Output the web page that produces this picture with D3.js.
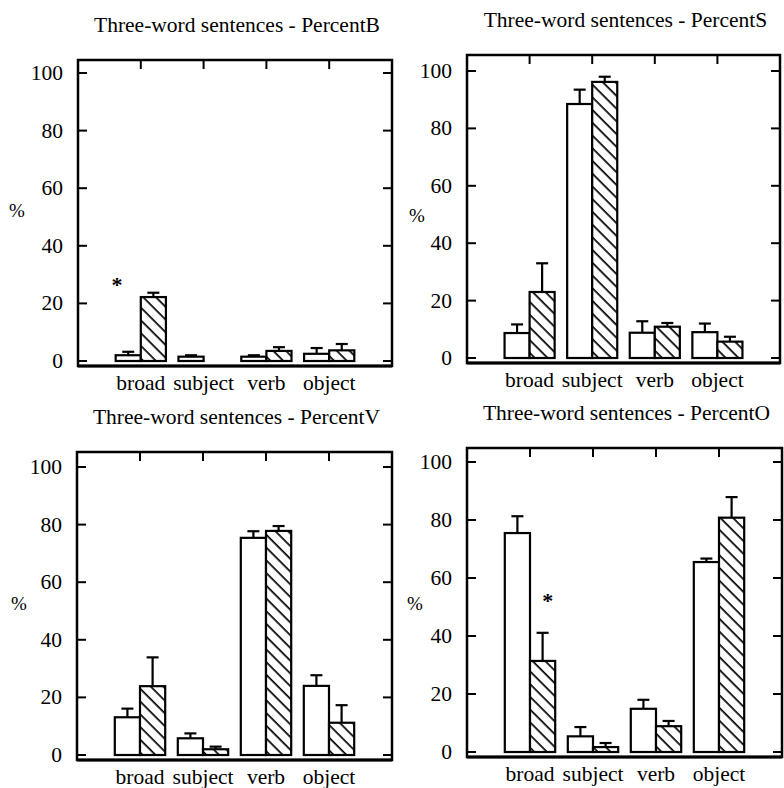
<!DOCTYPE html>
<html>
<head>
<meta charset="utf-8">
<script src="https://cdn.jsdelivr.net/npm/d3@7"></script>
<style>html,body{margin:0;background:#fff}</style>
</head>
<body>
<svg id="chart" width="784" height="788" font-family="Liberation Serif"></svg>
<script>
// ---------------- data ----------------
const categories = ["broad", "subject", "verb", "object"];
const yTicks = [0, 20, 40, 60, 80, 100];
const panelTitles = [
  "Three-word sentences - PercentB",
  "Three-word sentences - PercentS",
  "Three-word sentences - PercentV",
  "Three-word sentences - PercentO"
];
// open (white) bars
const openB = [2.0, 1.5, 1.5, 2.5];
const openS = [8.7, 88.5, 8.8, 9.0];
const openV = [13.1, 5.8, 75.4, 24.0];
const openO = [75.5, 5.4, 14.9, 65.5];
// hatched bars
const hatchB = [22.2, 0, 3.5, 3.7];
const hatchS = [23.0, 96.2, 10.9, 5.7];
const hatchV = [23.9, 2.0, 77.8, 11.2];
const hatchO = [31.4, 1.7, 8.9, 80.8];
// upward error bars
const openErrB = [1.2, 0.5, 0.5, 2.0];
const openErrS = [3.0, 5.0, 4.0, 3.0];
const openErrV = [3.0, 1.7, 2.3, 3.7];
const openErrO = [5.8, 3.2, 3.1, 1.2];
const hatchErrB = [1.5, 0, 1.3, 2.2];
const hatchErrS = [10.0, 1.8, 1.3, 1.7];
const hatchErrV = [10.0, 0.9, 1.7, 6.1];
const hatchErrO = [9.7, 1.4, 1.8, 7.1];
// significance asterisks: [panel index, category, value, side]
const sigMarks = [
  [0, "broad", 28.5, "left"],
  [3, "broad", 54, "right"]
];

// ---------------- layout ----------------
const panels = [
  { L: 78,  R: 392, T: 60,  y0: 361, y100: 73,  pct: [17, 211] },
  { L: 467, R: 780, T: 55,  y0: 358, y100: 71,  pct: [417, 216] },
  { L: 77,  R: 392, T: 452, y0: 755, y100: 467, pct: [19, 604] },
  { L: 467, R: 782, T: 448, y0: 752, y100: 462, pct: [415, 604] }
];
const openData = [openB, openS, openV, openO];
const hatchData = [hatchB, hatchS, hatchV, hatchO];
const openErr = [openErrB, openErrS, openErrV, openErrO];
const hatchErr = [hatchErrB, hatchErrS, hatchErrV, hatchErrO];

const svg = d3.select("#chart");
const defs = svg.append("defs");
const pat = defs.append("pattern")
  .attr("id", "hatch")
  .attr("patternUnits", "userSpaceOnUse")
  .attr("width", 9).attr("height", 9)
  .attr("patternTransform", "rotate(45)");
pat.append("rect").attr("width", 9).attr("height", 9).attr("fill", "#fff");
pat.append("line").attr("x1", 0).attr("y1", 0).attr("x2", 9).attr("y2", 0)
  .attr("stroke", "#000").attr("stroke-width", 3.4);

function addText(x, y, str, size, anchor) {
  return svg.append("text")
    .attr("x", x).attr("y", y)
    .attr("font-family", "Liberation Serif")
    .style("font-family", "'Liberation Serif', serif")
    .attr("font-size", size)
    .attr("text-anchor", anchor)
    .text(String(str));
}

panels.forEach((p, i) => {
  const g = svg.append("g");
  const x = d3.scalePoint().domain(categories).range([p.L, p.R]).padding(1);
  const y = d3.scaleLinear().domain([0, 100]).range([p.y0, p.y100]);
  const B = p.y0 + 5;
  const bw = x.step() * 0.4;
  const tickLen = 9;

  // title
  addText((p.L + p.R) / 2 + 2, p.T - 28, panelTitles[i], 21.5, "middle");

  // frame
  g.append("rect")
    .attr("x", p.L).attr("y", p.T)
    .attr("width", p.R - p.L).attr("height", B - p.T)
    .attr("fill", "none").attr("stroke", "#000").attr("stroke-width", 2.5);
  g.append("line")
    .attr("x1", p.L).attr("x2", p.R).attr("y1", B).attr("y2", B)
    .attr("stroke", "#000").attr("stroke-width", 3);

  // y ticks (inward, both sides) and labels
  yTicks.forEach(t => {
    g.append("line").attr("x1", p.L).attr("x2", p.L + tickLen)
      .attr("y1", y(t)).attr("y2", y(t)).attr("stroke", "#000").attr("stroke-width", 2);
    g.append("line").attr("x1", p.R).attr("x2", p.R - tickLen)
      .attr("y1", y(t)).attr("y2", y(t)).attr("stroke", "#000").attr("stroke-width", 2);
    addText(p.L - 15, y(t) + 7, t, 21.5, "end");
  });

  // top ticks at category centres
  categories.forEach(c => {
    g.append("line").attr("x1", x(c)).attr("x2", x(c))
      .attr("y1", p.T).attr("y2", p.T + tickLen)
      .attr("stroke", "#000").attr("stroke-width", 2);
  });

  // category labels
  categories.forEach(c => {
    addText(x(c), B + 24, c, 21.5, "middle");
  });

  // % label
  addText(p.pct[0], p.pct[1] + 6, "%", 19, "middle");

  // bars
  const drawBars = (vals, errs, offset, fill) => {
    categories.forEach((c, k) => {
      const v = vals[k];
      if (v <= 0) return;
      const bx = x(c) + offset;
      g.append("rect")
        .attr("x", bx).attr("y", y(v))
        .attr("width", bw).attr("height", y(0) - y(v))
        .attr("fill", fill).attr("stroke", "#000").attr("stroke-width", 2.2);
      const e = errs[k];
      if (e > 0) {
        const cx = bx + bw / 2;
        g.append("line").attr("x1", cx).attr("x2", cx)
          .attr("y1", y(v)).attr("y2", y(v + e))
          .attr("stroke", "#000").attr("stroke-width", 2.2);
        g.append("line").attr("x1", cx - 6).attr("x2", cx + 6)
          .attr("y1", y(v + e)).attr("y2", y(v + e))
          .attr("stroke", "#000").attr("stroke-width", 2.2);
      }
    });
  };
  drawBars(openData[i], openErr[i], -bw, "#fff");
  drawBars(hatchData[i], hatchErr[i], 0, "url(#hatch)");

  // asterisks
  sigMarks.filter(m => m[0] === i).forEach(m => {
    const ax = m[3] === "left" ? x(m[1]) - bw * 0.95 : x(m[1]) + bw * 0.7;
    addText(ax, y(m[2]) + 13, "*", 22, "middle").attr("font-weight", "bold");
  });
});
</script>
</body>
</html>
